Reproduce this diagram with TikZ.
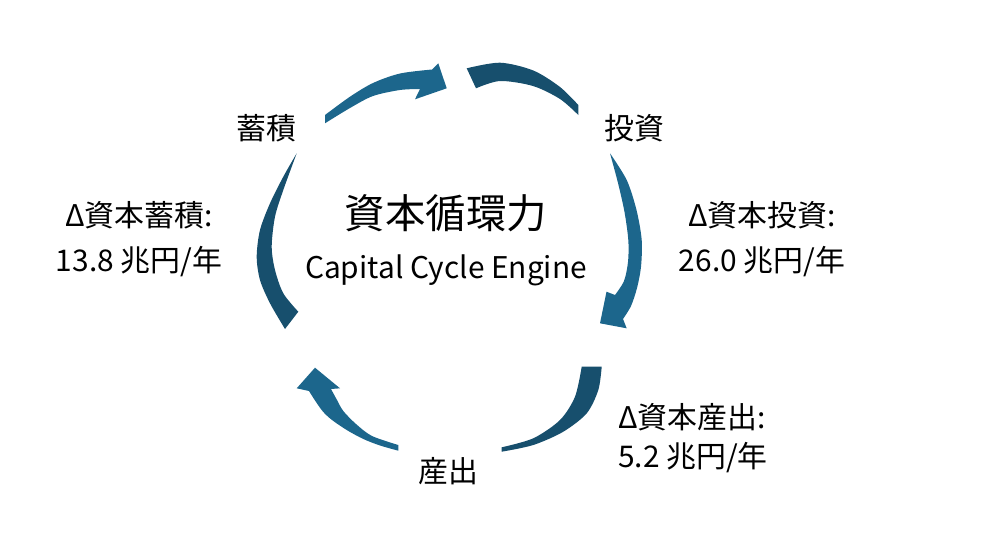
\documentclass[tikz,border=0pt]{standalone}
\usepackage{fontspec}
\setmainfont{Noto Sans CJK JP}
\usetikzlibrary{positioning}
\definecolor{cyclight}{RGB}{28,102,140}
\definecolor{cycdark}{RGB}{23,79,109}
\tikzset{headarc/.style={fill=cyclight},
  tailarc/.style={fill=cycdark},
  stage/.style={font=\fontsize{17}{20}\selectfont,inner sep=0pt},
  vallbl/.style={font=\fontsize{17}{20}\selectfont,inner sep=0pt},
  bigttl/.style={font=\fontsize{23}{28}\selectfont,inner sep=0pt},
  subttl/.style={font=\fontsize{17}{20}\selectfont,inner sep=0pt}}

\begin{document}
\begin{tikzpicture}[x=0.02cm,y=-0.02cm]
\useasboundingbox (0,0) rectangle (1000,534);
% top left: accumulation -> investment
\fill[headarc] plot[smooth] coordinates {(325,115) (350,96.7) (373,83) (400,73.5) (432,69.5)}
  -- (438.3,63.3) -- (446.7,88.3) -- (415,99.3) -- (420,89)
  -- plot[smooth] coordinates {(420,89) (400,90) (373,96) (350,108) (325,123.3)} -- cycle;
\fill[tailarc] plot[smooth] coordinates {(466.7,68.3) (500,62.7) (533.3,70.5) (560,87) (578.3,105)}
  -- (578.3,115)
  -- plot[smooth] coordinates {(578.3,115) (560,99) (533,86) (500,81) (476,88.3)} -- cycle;
% right: investment -> output
\fill[headarc] plot[smooth] coordinates {(610,153.3) (626.7,180) (636.5,210) (641.7,240) (641,266.7) (637,288) (631,306) (623,319)}
  -- (626.7,328.3) -- (600,323.3) -- (606.5,291.7) -- (615,295)
  -- plot[smooth] coordinates {(615,295) (624,281) (628,262) (628.3,240) (624.5,212) (618,183) (610,153.3)} -- cycle;
\fill[tailarc] plot[smooth] coordinates {(601.7,366.7) (598.3,390) (586.7,413.3) (563.3,431.7) (533.3,445) (501.7,451.7)}
  -- (501.7,447.3)
  -- plot[smooth] coordinates {(501.7,447.3) (533.3,438.3) (560,420) (575,396.7) (581.7,366.7)} -- cycle;
% bottom left: output -> accumulation
\fill[headarc] plot[smooth] coordinates {(398.3,450.7) (380,445.5) (363.3,439) (346.7,430) (332,420) (323.3,412) (316,402) (309,391)}
  -- (296.7,388.3) -- (315,367.7) -- (340,388.3) -- (331,389)
  -- plot[smooth] coordinates {(331,389) (337,400) (343.3,411) (356,424) (372,436) (398.3,445)} -- cycle;
\fill[tailarc] plot[smooth] coordinates {(296.7,153.3) (283.3,176.7) (270,203.3) (260,230) (256.7,256.7) (260,280) (270,303.3) (285,329)}
  -- (298.3,311.7)
  -- plot[smooth] coordinates {(298.3,311.7) (283.3,293.3) (275,270) (271.7,246.7) (275,216.7) (283.3,190) (296.7,153.3)} -- cycle;

\foreach \n/\x/\y/\t in {acc/266/128/蓄積,inv/634/128/投資,out/448/471/産出}
  \node[stage] (\n) at (\x,\y) {\t};

\node[bigttl] (ttl) at (446,213) {資本循環力};
\node[subttl] (sub) at (446,270) {Capital Cycle Engine};

\node[vallbl] (accA) at (139,215) {Δ資本蓄積:};
\node[vallbl] (accB) at (139,262) {13.8 兆円/年};
\node[vallbl] (invA) at (762,215) {Δ資本投資:};
\node[vallbl] (invB) at (762,262) {26.0 兆円/年};
\node[vallbl,anchor=west] (outA) at (618,417) {Δ資本産出:};
\node[vallbl,anchor=west] (outB) at (618,458) {5.2 兆円/年};
\end{tikzpicture}
\end{document}
